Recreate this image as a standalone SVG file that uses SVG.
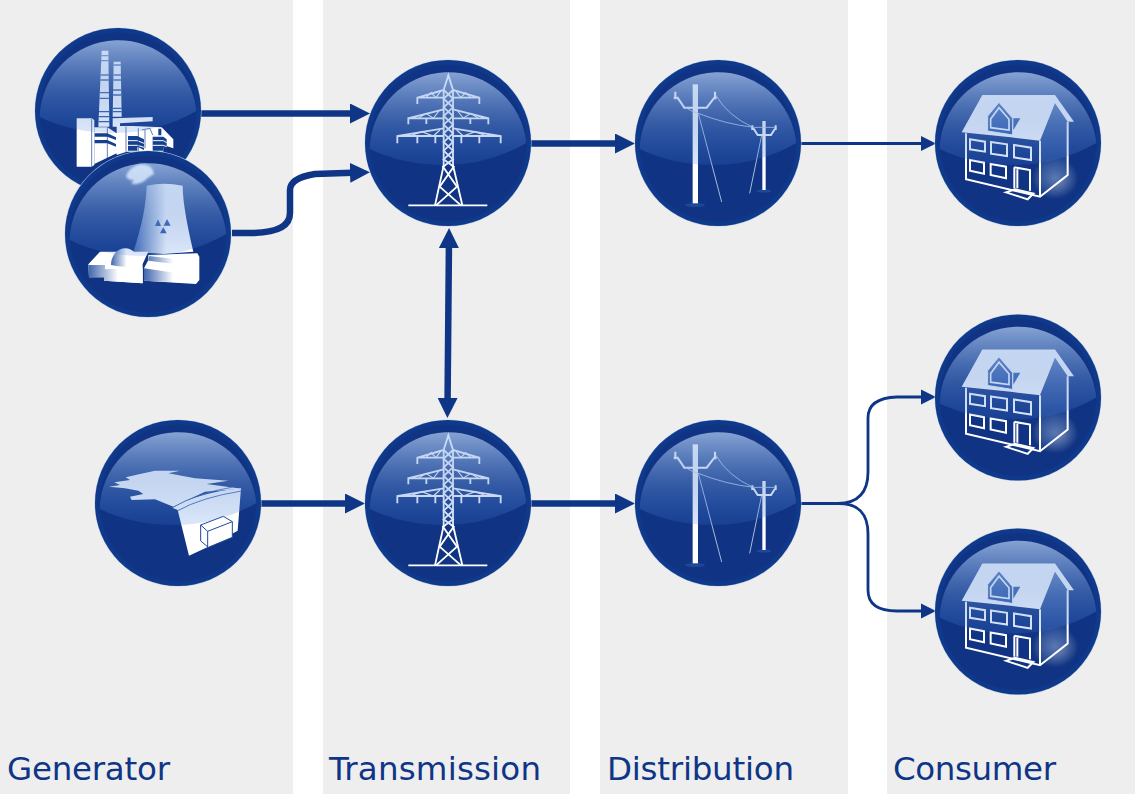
<svg xmlns="http://www.w3.org/2000/svg" xmlns:xlink="http://www.w3.org/1999/xlink" width="1135" height="794" viewBox="0 0 1135 794">
<style>
.panel{fill:#eeeeee}
.label{font-family:"DejaVu Sans",sans-serif;font-size:32.500px;fill:#0f3587}
.thick{fill:none;stroke:#0f3587;stroke-width:6.500}
.thin{fill:none;stroke:#0f3587;stroke-width:2.800}
.w{fill:none;stroke:#ffffff;stroke-width:5.500}
.w2{fill:none;stroke:#ffffff;stroke-width:3.500}
.wf{fill:#ffffff}
.h{fill:none;stroke:#ffffff;stroke-width:6}
</style>
<defs>
<linearGradient id="gloss" x1="0" y1="0" x2="0" y2="1">
<stop offset="0" stop-color="#b8d2f5" stop-opacity=".7"/>
<stop offset=".55" stop-color="#6f98da" stop-opacity=".4"/>
<stop offset="1" stop-color="#3c78dc" stop-opacity=".18"/>
</linearGradient>
<linearGradient id="cool" x1="0" y1="0" x2="1" y2="0">
<stop offset="0" stop-color="#3f66ad"/><stop offset=".55" stop-color="#ffffff"/>
</linearGradient>
<linearGradient id="side" x1="0" y1="0" x2="0" y2="1">
<stop offset="0" stop-color="#6b8fce"/><stop offset="1" stop-color="#15408f"/>
</linearGradient>
<radialGradient id="glow"><stop offset="0" stop-color="#fff" stop-opacity=".5"/><stop offset="1" stop-color="#fff" stop-opacity="0"/></radialGradient>
<filter id="blur" x="-20%" y="-20%" width="140%" height="140%"><feGaussianBlur stdDeviation="2.500"/></filter>
<marker id="big" markerUnits="userSpaceOnUse" markerWidth="20" markerHeight="20" refX="10" refY="10" orient="auto"><path d="M0,0 L20,10 L0,20Z" fill="#0f3587"/></marker>
<marker id="bigS" markerUnits="userSpaceOnUse" markerWidth="20" markerHeight="20" refX="10" refY="10" orient="auto"><path d="M20,0 L0,10 L20,20Z" fill="#0f3587"/></marker>
<marker id="small" markerUnits="userSpaceOnUse" markerWidth="15" markerHeight="16" refX="7" refY="8" orient="auto"><path d="M0,.5 L15,8 L0,15.500Z" fill="#0f3587"/></marker>
<g id="base">
<circle r="83.500" fill="#c5cfe3"/>
<circle r="83" fill="#0f3a8c"/>
<circle r="78.500" fill="#103483"/>
</g>
<path id="sheen" d="M-78.300,6 A78.500,78.500 0 0 1 78.300,0 Q40,22 -4,22 Q-45,22 -78.300,6Z" fill="url(#gloss)"/>
<g id="tower">
<path class="w" d="M266,120 L280,76 L294,120 V346 M266,120 V346 L240,466 M294,346 L322,466"/>
<path class="w" d="M266,120 L294,146 L266,172 L294,198 L266,224 L294,250 L266,276 L294,302 L266,328 L296,350 L254,410 L318,466 M294,120 L266,146 L294,172 L266,198 L294,224 L266,250 L294,276 L266,302 L294,328 L264,350 L306,410 L243,466"/>
<path class="w" d="M266,120 L187,143 V162 M187,143 H266 M294,120 L373,143 V162 M373,143 H294 M266,178 L160,205 V223 M160,205 H266 M214,205 V222 M294,178 L400,205 V223 M400,205 H294 M346,205 V222 M266,235 L127,258 V280 M127,258 H266 M187,258 V280 M241,258 V280 M294,235 L437,258 V280 M437,258 H294 M319,258 V280 M373,258 V280"/>
<path class="w2" d="M213,143 L228,128 L243,143 L256,125 M347,143 L332,128 L317,143 L304,125 M190,205 L213,190 L235,205 L252,183 M370,205 L347,190 L325,205 L308,183 M165,258 L200,245 L235,258 L255,240 M395,258 L360,245 L325,258 L305,240"/>
<path class="w" d="M160,466 H397"/>
</g>
<g id="pole">
<ellipse cx="210" cy="465" rx="30" ry="6" fill="#2a55a5" opacity=".6"/>
<ellipse cx="417" cy="423" rx="22" ry="5" fill="#2a55a5" opacity=".6"/>
<rect x="203" y="103" width="16" height="357" fill="#fff"/>
<rect x="412" y="213" width="10" height="207" fill="#fff"/>
<path class="h" d="M146,143 H158 L178,173 H245 L268,143 H275 M380,236 H386 L398,255 H438 L450,236"/>
<path class="h" d="M151,125 V148 M270,125 V148 M382,226 V240 M452,226 V240"/>
<path d="M155,145 Q180,180 220,190 Q300,222 385,232 H450 M272,135 Q310,200 385,232 M220,190 L290,456 M410,256 L374,430" fill="none" stroke="#c6d4ea" stroke-width="2.500"/>
</g>
<g id="house">
<ellipse cx="390" cy="385" rx="70" ry="62" fill="url(#glow)"/>
<path d="M345,272 L390,160 L428,215 V375 L345,440Z" fill="url(#side)" opacity=".45"/>
<path class="wf" d="M110,247 L172,135 H390 L447,215 H428 L390,160 L345,272 L257,262Z"/>
<path class="h" d="M123,250 V388 L345,440 L428,375 V215 M345,272 V440"/>
<path d="M188,198 L222,157 L263,205 V255 L188,243Z" fill="#2a55a5" stroke="#fff" stroke-width="3"/>
<path d="M197,207 L222,173 L252,208 V240 L197,233Z" fill="#2a55a5" stroke="#fff" stroke-width="5"/>
<path d="M265,205 H286 L265,240Z" fill="#2a55a5"/>
<path class="h" d="M135,268 L180,275 V305 L135,298Z M198,276 L246,283 V318 L198,311Z M267,285 L318,293 V330 L267,322Z M135,330 L177,338 V371 L135,362Z M197,342 L243,350 V385 L197,375Z M268,352 L315,360 V422 M268,352 V415 M277,358 V415"/>
<path d="M243,427 L270,418 L325,431 L308,448Z" fill="none" stroke="#fff" stroke-width="6"/>
</g>
</defs>
<g id="panels">
<rect class="panel" x="0" y="0" width="293" height="794"/>
<rect class="panel" x="323" y="0" width="247" height="794"/>
<rect class="panel" x="600" y="0" width="248" height="794"/>
<rect class="panel" x="887" y="0" width="248" height="794"/>
</g>
<g id="connectors">
<path class="thick" marker-end="url(#big)" d="M201,113.500 H360"/>
<path class="thick" marker-end="url(#big)" d="M232,233 H250 Q290,233 290,213 V190 Q290,178 315,174 L360,172.500"/>
<path class="thick" marker-end="url(#big)" d="M531,143.500 H625"/>
<path class="thin" marker-end="url(#small)" d="M801,143.500 H928"/>
<path class="thick" marker-start="url(#bigS)" marker-end="url(#big)" d="M449,238 L447.500,408"/>
<path class="thick" marker-end="url(#big)" d="M261,503.500 H355"/>
<path class="thick" marker-end="url(#big)" d="M531,503.500 H625"/>
<path class="thin" marker-end="url(#small)" d="M801,503.500 H838 Q868,503 868,472 V418 Q868,398 897,397 H928"/>
<path class="thin" marker-end="url(#small)" d="M838,503.500 Q868,503 868,534 V590 Q868,611 897,611 H928"/>
</g>
<g id="node-coal">
<use href="#base" x="118" y="111"/>
<g transform="translate(20 20) scale(.33333)">
<path class="wf" d="M245,92 H265 L268,320 H235Z M281,125 H302 L305,290 H278Z"/>
<path fill="none" stroke="#2a55a5" stroke-width="4" d="M243,107 H266 M243,122 H266 M242,165 H267 M241,180 H267 M240,218 H267 M239,235 H268 M237,275 H268 M236,290 H268 M236,305 H268 M280,135 H303 M280,165 H303 M280,180 H303 M279,210 H304 M278,225 H304 M278,265 H305 M278,275 H305"/>
<path class="wf" d="M170,295 H215 L223,300 V435 L215,440 H170Z"/>
<path class="wf" d="M223,322 H262 L290,340 V400 L223,432Z M278,295 L398,291 V304 L300,310 V318 H340 L425,322 L460,358 V385 L430,375 V395 L320,395 L290,405 V320 H278Z"/>
<path fill="#15408f" d="M224,340 H262 L288,352 V360 L262,350 H224Z M224,360 H262 L288,372 V380 L262,370 H224Z M324,348 H352 L372,358 V390 L352,380 V392 H324Z M398,350 H430 L440,358 V388 L430,380 V392 H398Z M415,326 H424 V346 H415Z"/>
<path fill="none" stroke="#fff" stroke-width="3" d="M324,362 H352 L372,370 M324,376 H352 L372,382 M398,362 H430 L440,368 M398,376 H430 L440,380"/>
<path fill="none" stroke="#15408f" stroke-width="2" d="M215,297 V440 M262,322 V415 M318,320 V395 M355,325 V395 M375,330 V385 M365,330 L390,325 L398,345"/>
</g>
<use href="#sheen" x="118" y="111"/>
</g>
<g id="node-nuclear">
<use href="#base" x="148" y="234"/>
<g transform="translate(20 20) scale(.33333)">
<path d="M318,468 Q328,440 362,432 Q398,432 402,462 Q382,472 372,484 Q350,498 333,490 L342,480 Q322,482 318,468Z" fill="#fff" filter="url(#blur)"/>
<path d="M380,497 Q432,485 488,497 Q488,560 520,695 L430,702 L340,695 Q378,580 380,497Z" fill="url(#cool)"/>
<path fill="#2a55a5" d="M414,598 L405,618 H423Z M441,597 L431,617 H452Z M420,640 H440 L430,622Z"/>
<path class="wf" d="M205,733 L240,695 H385 L368,732 V790 L252,782 V772 L207,772Z"/>
<path d="M205,735 H255 V772 L207,772Z M252,748 L368,745 V790 L252,782Z" fill="url(#cool)"/>
<path d="M273,735 A42,50 0 0 1 358,735 Q315,745 273,735Z" fill="url(#cool)"/>
<path d="M385,705 L532,700 L538,710 V780 L528,792 L372,782 V745 L385,720Z" fill="#fff"/>
<path d="M385,722 L532,740 V725 L388,708Z M372,745 L528,768 V790 L372,782Z" fill="url(#cool)"/>
</g>
<use href="#sheen" x="148" y="234"/>
</g>
<g id="node-hydro">
<use href="#base" x="178" y="503"/>
<g transform="translate(85 410) scale(.33333)">
<path class="wf" d="M72,230 L105,225 L88,217 L135,210 L122,202 L155,194 L210,182 L285,182 L250,190 L330,205 L430,212 L365,222 L470,236 L360,245 L265,290 L210,268 L140,270 L135,260 L175,252 L160,242 L120,235Z"/>
<path class="wf" d="M262,293 Q340,248 468,235 L458,362 L370,410 L312,437 L278,300Z"/>
<path d="M262,293 Q340,248 440,232 M278,302 Q350,262 470,243" fill="none" stroke="#2a55a5" stroke-width="2.500"/>
<path d="M347,345 L415,319 L442,335 V382 L370,412 L347,393Z M347,345 L368,364 L442,335 M368,364 V412" fill="#fff" stroke="#1f4a9a" stroke-width="3"/>
</g>
<use href="#sheen" x="178" y="503"/>
</g>
<g id="node-tower-1">
<use href="#base" x="448" y="143"/>
<use href="#tower" transform="translate(355 50) scale(.33333)"/>
<use href="#sheen" x="448" y="143"/>
</g>
<g id="node-tower-2">
<use href="#base" x="448" y="503"/>
<use href="#tower" transform="translate(355 410) scale(.33333)"/>
<use href="#sheen" x="448" y="503"/>
</g>
<g id="node-pole-1">
<use href="#base" x="718" y="143"/>
<use href="#pole" transform="translate(625 50) scale(.33333)"/>
<use href="#sheen" x="718" y="143"/>
</g>
<g id="node-pole-2">
<use href="#base" x="718" y="503"/>
<use href="#pole" transform="translate(625 410) scale(.33333)"/>
<use href="#sheen" x="718" y="503"/>
</g>
<g id="node-house-1">
<use href="#base" x="1018" y="143"/>
<use href="#house" transform="translate(925 50) scale(.33333)"/>
<use href="#sheen" x="1018" y="143"/>
</g>
<g id="node-house-2">
<use href="#base" x="1018" y="397.500"/>
<use href="#house" transform="translate(925 304.500) scale(.33333)"/>
<use href="#sheen" x="1018" y="397.500"/>
</g>
<g id="node-house-3">
<use href="#base" x="1018" y="611.500"/>
<use href="#house" transform="translate(925 518.500) scale(.33333)"/>
<use href="#sheen" x="1018" y="611.500"/>
</g>
<g id="labels">
<text class="label" x="7" y="780" textLength="163">Generator</text>
<text class="label" x="329" y="780" textLength="212">Transmission</text>
<text class="label" x="607" y="780" textLength="187">Distribution</text>
<text class="label" x="893" y="780" textLength="163">Consumer</text>
</g>
</svg>
